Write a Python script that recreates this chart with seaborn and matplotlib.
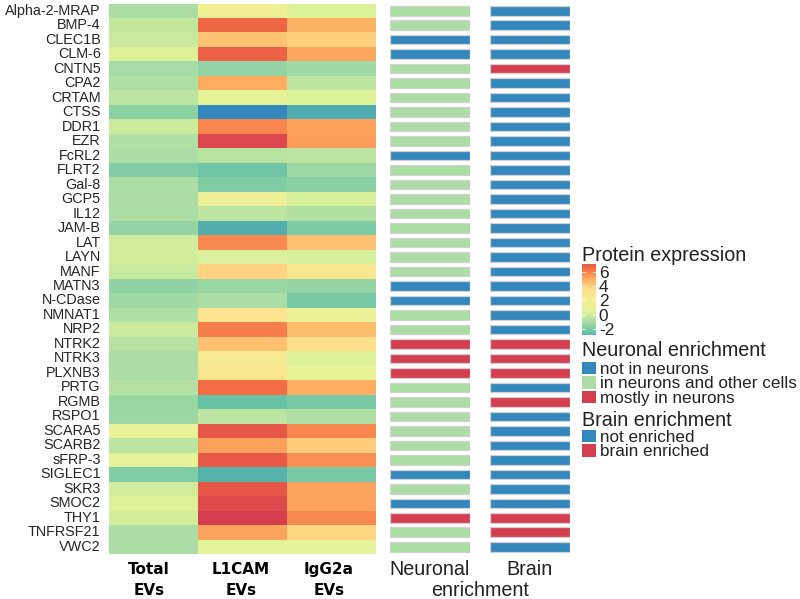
import numpy as np
import pandas as pd
import seaborn as sns
import matplotlib
matplotlib.use("Agg")
import matplotlib.pyplot as plt
from matplotlib.colors import LinearSegmentedColormap, Normalize
from matplotlib.cm import ScalarMappable
from matplotlib.patches import Patch

proteins = ["Alpha-2-MRAP","BMP-4","CLEC1B","CLM-6","CNTN5","CPA2","CRTAM","CTSS","DDR1","EZR",
            "FcRL2","FLRT2","Gal-8","GCP5","IL12","JAM-B","LAT","LAYN","MANF","MATN3","N-CDase",
            "NMNAT1","NRP2","NTRK2","NTRK3","PLXNB3","PRTG","RGMB","RSPO1","SCARA5","SCARB2",
            "sFRP-3","SIGLEC1","SKR3","SMOC2","THY1","TNFRSF21","VWC2"]
total_evs = [-1.0,-0.3,-0.2,0.4,-1.1,-0.9,-0.5,-1.7,-0.1,-0.9,-1.0,-1.9,-1.0,-1.0,-1.0,-1.5,0.0,0.1,-0.2,
             -1.6,-1.2,-0.9,-0.1,-0.7,-1.0,-1.0,-0.7,-1.4,-1.3,1.0,-0.5,0.8,-1.9,0.0,0.4,0.1,-1.0,-1.0]
l1cam_evs = [1.8,6.7,4.3,6.9,-1.5,5.0,0.8,-4.0,5.9,7.7,-0.6,-2.3,-1.9,1.5,-0.5,-3.0,5.8,0.3,3.9,
             -1.4,-1.0,3.2,6.1,4.4,2.5,2.9,6.5,-2.5,-0.5,7.2,5.3,7.1,-2.9,7.2,7.6,8.0,5.2,0.5]
igg2a_evs = [0.4,4.9,4.0,5.1,-1.2,-0.5,0.4,-3.1,5.3,5.4,-0.5,-1.3,-1.7,0.2,-0.8,-2.0,4.4,0.2,2.8,
             -1.5,-2.1,1.3,4.6,3.5,0.4,1.0,5.0,-2.1,-0.9,5.9,4.1,5.7,-2.1,5.2,5.2,5.8,3.8,0.5]
neuronal = [1,1,0,0,1,1,1,1,1,1,0,1,1,1,1,1,1,1,1,0,0,1,1,2,2,2,1,1,1,1,1,1,0,1,0,2,1,1]
brain = [0,0,0,0,1,0,0,0,0,0,0,0,0,0,0,0,0,0,0,0,0,0,0,1,1,1,0,1,0,0,0,0,0,0,0,1,1,0]
sample_labels = ["Total\nEVs","L1CAM\nEVs","IgG2a\nEVs"]
neuronal_names = ["not in neurons","in neurons and other cells","mostly in neurons"]
brain_names = ["not enriched","brain enriched"]
expression_ticks = [-2,0,2,4,6]

BLUE, GREEN, RED = "#3288bd", "#abdda4", "#d53e4f"
ramp = ["#3288bd","#66c2a5","#abdda4","#e2f398","#f3ef95","#fee08b","#fdae61","#f46d43","#d53e4f"]
cmap = LinearSegmentedColormap.from_list("spec", ramp)
norm = Normalize(-4, 8)

plt.rcParams["font.family"] = ["Liberation Sans", "DejaVu Sans"]
plt.rcParams["axes.unicode_minus"] = False
W, H = 800, 599
fig = plt.figure(figsize=(8, 5.99), dpi=100)
def box(x0, y0, x1, y1):
    return fig.add_axes([x0/W, 1-y1/H, (x1-x0)/W, (y1-y0)/H])

TOP, BOT = 3.5, 554
df = pd.DataFrame({"Total": total_evs, "L1CAM": l1cam_evs, "IgG2a": igg2a_evs}, index=proteins)
ax = box(109, TOP, 376, BOT)
sns.heatmap(df, ax=ax, cmap=cmap, norm=norm, cbar=False, yticklabels=proteins)
ax.set_xticks([0.45, 1.48, 2.47])
ax.set_xticklabels(sample_labels)
ax.tick_params(length=0)
ax.tick_params(axis="y", labelsize=10.4, labelcolor="#262626", pad=6, labelrotation=0)
ax.tick_params(axis="x", pad=6, labelrotation=0)
for t in ax.get_xticklabels():
    t.set_fontfamily("DejaVu Sans"); t.set_fontweight("bold"); t.set_fontsize(11); t.set_linespacing(1.5)

def strip(x0, x1, values, colours, name):
    a = box(x0, TOP, x1, BOT)
    d = pd.DataFrame({"p": proteins, "v": [1]*len(proteins), "c": values})
    sns.barplot(data=d, x="v", y="p", hue="c", palette=colours, dodge=False, width=0.66,
                orient="h", ax=a, legend=False, edgecolor="#d2d2d2", linewidth=0.9, saturation=1)
    a.set_ylim(len(proteins)-0.5, -0.5)
    a.set_xlim(0, 1)
    a.set_xlabel(""); a.set_ylabel("")
    a.set_yticks([])
    a.set_xticks([0.5]); a.set_xticklabels([name], fontsize=14.2, color="#222222")
    a.tick_params(axis="x", length=0, pad=4)
    a.patch.set_alpha(0)
    sns.despine(ax=a, left=True, bottom=True)
    return a

strip(390, 470, neuronal, {0: BLUE, 1: GREEN, 2: RED}, "Neuronal")
strip(490, 570, brain, {0: BLUE, 1: RED}, "Brain")
fig.text(480/W, 1-590/H, "enrichment", fontsize=14.2, color="#222222", ha="center", va="center")

# colour bar
cax = box(582, 264, 596, 335)
cb = fig.colorbar(ScalarMappable(norm=norm, cmap=cmap), cax=cax,
                  boundaries=np.linspace(-2.85, 7.1, 120), ticks=expression_ticks, drawedges=False)
cb.outline.set_visible(False)
cb.ax.tick_params(length=0, labelsize=12.4, pad=2, labelcolor="#222222")
for v in expression_ticks:
    cb.ax.plot([0, .2], [v, v], color="white", lw=.6, transform=cb.ax.get_yaxis_transform())
    cb.ax.plot([.8, 1], [v, v], color="white", lw=.6, transform=cb.ax.get_yaxis_transform())
fig.text(582/W, 1-255/H, "Protein expression", fontsize=14.2, color="#222222", va="center")

def legend(title, title_y, names, colours, first_y):
    fig.text(582/W, 1-title_y/H, title, fontsize=14.2, color="#222222", va="center")
    handles = [Patch(facecolor=c, edgecolor="none", label=n) for c, n in zip(colours, names)]
    top = first_y - 7
    leg = fig.legend(handles=handles, loc="upper left", bbox_to_anchor=(582/W, 1-top/H),
                     frameon=False, borderpad=0, borderaxespad=0, fontsize=12.3,
                     handlelength=0.8, handleheight=0.74, handletextpad=0.24, labelspacing=-0.05,
                     labelcolor="#222222")
    return leg

legend("Neuronal enrichment", 351, neuronal_names, [BLUE, GREEN, RED], 369)
legend("Brain enrichment", 420, brain_names, [BLUE, RED], 437)

fig.savefig("out.png", dpi=100, facecolor="white")
